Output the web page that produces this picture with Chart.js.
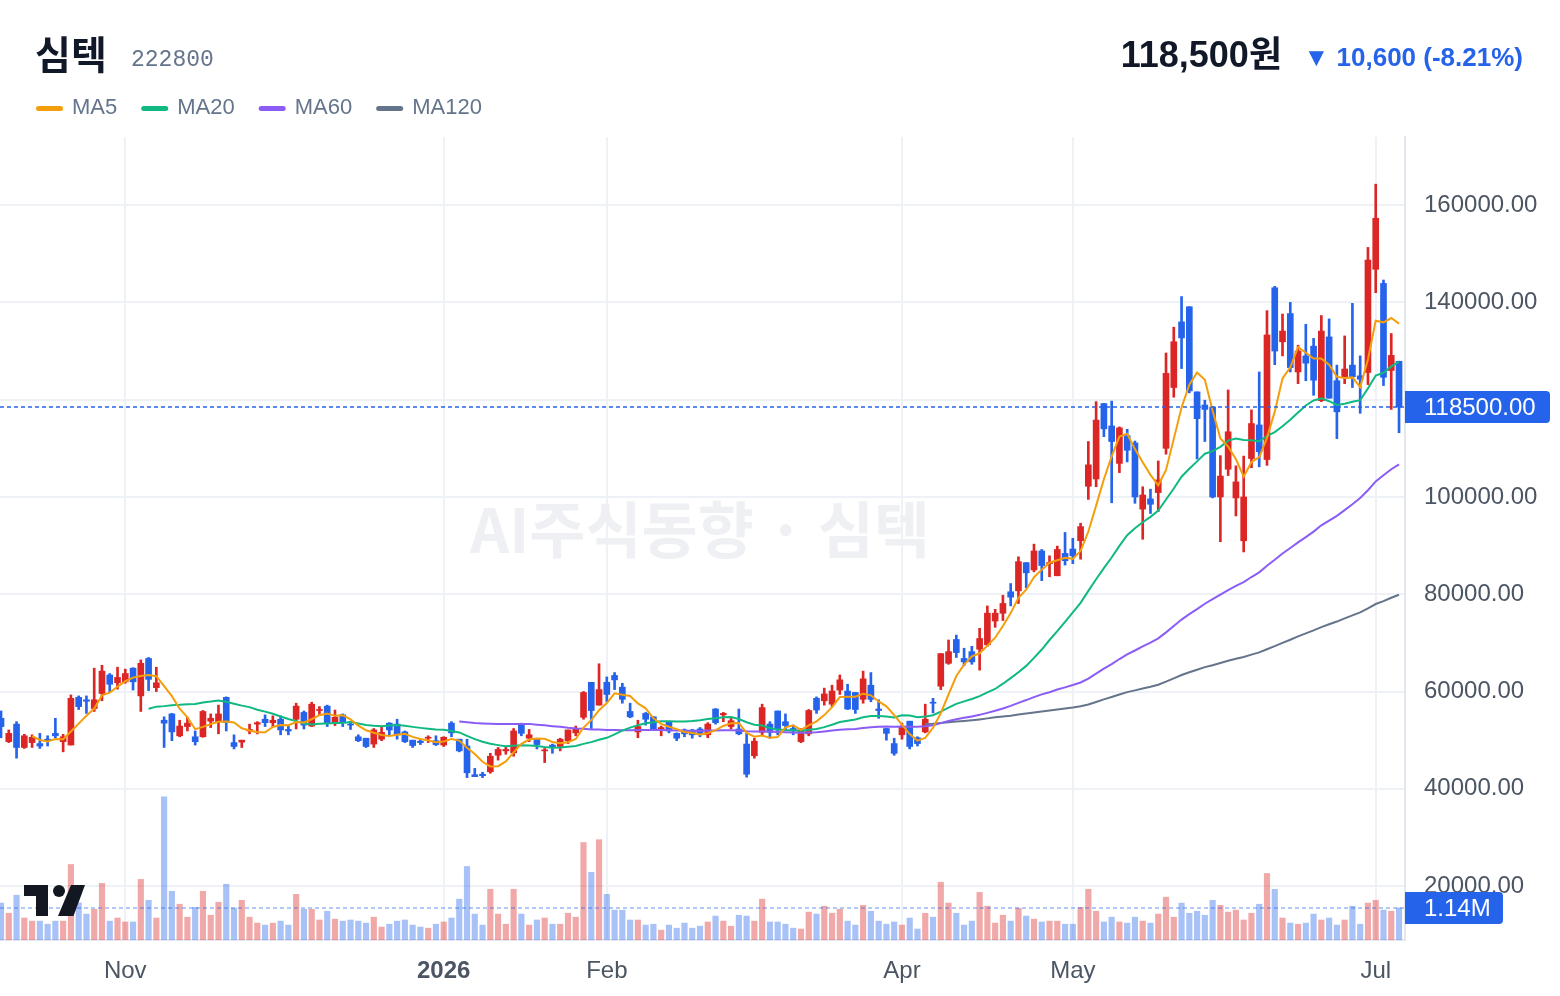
<!DOCTYPE html>
<html>
<head>
<meta charset="utf-8">
<title>심텍 222800</title>
<script src="https://cdn.jsdelivr.net/npm/chart.js@4.4.1/dist/chart.umd.min.js"></script>
<style>
  html, body { margin: 0; padding: 0; background: #ffffff; }
  canvas { display: block; }
</style>
</head>
<body>
<canvas id="stock_chart" width="1560" height="996"></canvas>
<script>
// 종목 정보
const stockName = '심텍';
const stockCode = '222800';
const lastPriceText = '118,500원';
const changeText = '▼ 10,600 (-8.21%)';
const lastVolumeText = '1.14M';

// x축 월 표시 (캔들 인덱스 / 레이블)
const monthTickIdx = [16, 57, 78, 116, 138, 177];
const monthTickLabel = ['Nov', '2026', 'Feb', 'Apr', 'May', 'Jul'];
const priceTicks = [20000, 40000, 60000, 80000, 100000, 120000, 140000, 160000];

// 일봉 시가/고가/저가/종가
const openArr = [
  54500, 49700, 53300, 48500, 49500, 49300, 50200, 51400, 49700, 49000,
  58800, 58300, 56500, 59600, 63400, 61800, 62000, 64800, 59100, 66800,
  60800, 54100, 55400, 50900, 52800, 50700, 50700, 53900, 53800, 58800,
  49500, 49600, 51900, 53300, 54300, 53600, 54300, 52200, 54300, 55700,
  52900, 56100, 57000, 53500, 55200, 53300, 50700, 50400, 49200, 50200,
  53500, 53300, 51700, 50000, 49800, 50400, 49900, 49000, 53500, 50200,
  48800, 42900, 43000, 43500, 46900, 47800, 47400, 53300, 50400, 50200,
  47800, 49000, 48700, 49900, 51500, 54700, 61900, 57200, 61900, 63300,
  60900, 55900, 51700, 55500, 54800, 52100, 53800, 51400, 52100, 52100,
  52300, 51100, 56400, 55200, 52800, 52300, 49200, 46800, 51600, 53300,
  56000, 53800, 52400, 49700, 51300, 58600, 58100, 57400, 60300, 60100,
  59800, 58400, 61300, 56400, 52400, 49300, 51100, 53900, 50500, 51700,
  57800, 61100, 65800, 70700, 66800, 68200, 68700, 69600, 74500, 76100,
  80500, 80700, 86500, 85000, 88900, 86300, 83800, 88400, 89300, 91000,
  102200, 103700, 119200, 114600, 106900, 112600, 111100, 97500, 99600, 100900,
  110000, 122500, 136000, 139100, 121600, 118900, 118500, 100000, 105700, 99800,
  91000, 107900, 114800, 107700, 143000, 131900, 137700, 125700, 129000, 131000,
  119800, 132900, 123900, 124700, 127100, 124900, 125600, 146800, 143900, 126000,
  127900
];
const highArr = [
  56000, 52100, 53800, 51200, 51100, 51400, 50900, 54500, 51200, 59300,
  59100, 59100, 64800, 65400, 63700, 65000, 64600, 64900, 66500, 67000,
  65000, 54800, 55500, 54100, 54700, 51900, 56100, 55400, 57200, 58900,
  51100, 50000, 53300, 53800, 55200, 55000, 55000, 53000, 57600, 56000,
  57800, 56900, 57200, 56200, 55400, 53800, 51100, 50400, 52400, 52900,
  53600, 54300, 51900, 50000, 50200, 50900, 50900, 50700, 53800, 50200,
  50200, 44200, 43400, 47300, 48500, 48700, 52400, 53500, 52200, 50200,
  48300, 49200, 50400, 52100, 52900, 60000, 61900, 65700, 63000, 63900,
  61700, 57600, 54100, 55700, 54800, 52900, 53900, 51500, 52300, 52200,
  52600, 53600, 56500, 55700, 54500, 56400, 51400, 50400, 57400, 53800,
  56000, 55400, 53100, 52400, 56300, 58900, 60700, 61300, 63400, 61500,
  59800, 64200, 63900, 58300, 52400, 50400, 53500, 53900, 50700, 57400,
  58600, 67800, 70600, 71600, 68900, 69300, 73000, 77600, 76900, 79800,
  82200, 87700, 86500, 90300, 89200, 87900, 89900, 92700, 91500, 94600,
  111400, 119600, 119200, 119700, 114400, 113900, 111500, 102100, 101600, 107400,
  129600, 134900, 141200, 139100, 121600, 119900, 118500, 108500, 122000, 106400,
  108400, 117900, 125700, 138300, 143300, 137600, 140000, 131200, 135500, 132600,
  137300, 136600, 127100, 133100, 139800, 129000, 151300, 164300, 144600, 133600,
  127900
];
const lowArr = [
  50500, 49500, 46300, 48300, 48500, 48300, 48800, 50400, 47600, 49000,
  56300, 55500, 55900, 58100, 59800, 60500, 61700, 60300, 55900, 60200,
  60000, 48500, 49900, 50700, 51900, 49000, 50600, 52600, 51300, 51900,
  48200, 48500, 51300, 51300, 52800, 52800, 51100, 51100, 52300, 52300,
  52800, 55200, 52800, 53000, 52800, 52200, 49700, 48500, 48500, 49900,
  50900, 50200, 49500, 48500, 49100, 49500, 48900, 48700, 50700, 47600,
  42300, 42500, 42300, 43200, 45900, 47100, 46700, 50900, 49700, 48200,
  45400, 47300, 47800, 49300, 50900, 54300, 52400, 57200, 57900, 60400,
  57600, 54600, 50500, 53100, 52100, 50900, 51500, 49900, 50700, 50400,
  50700, 50500, 53300, 53800, 52300, 51100, 42400, 46300, 51100, 50400,
  51100, 52100, 51100, 49500, 50900, 55500, 57200, 56900, 59400, 56300,
  55500, 57600, 57900, 54500, 50000, 46900, 50200, 48200, 48800, 51500,
  55600, 60400, 65600, 67000, 65300, 65600, 64400, 69300, 73200, 74600,
  77600, 78100, 81300, 84600, 82800, 83600, 83800, 86000, 86300, 87200,
  99500, 102100, 112400, 98800, 105000, 107200, 98700, 91300, 96600, 97000,
  108800, 120500, 126400, 121400, 107800, 111400, 99800, 90800, 104400, 96100,
  88700, 106000, 106200, 106500, 127200, 129000, 125700, 123300, 123900, 120900,
  119600, 120300, 112000, 123300, 122500, 117200, 123100, 142000, 122900, 118000,
  113200
];
const closeArr = [
  52800, 51400, 48500, 50900, 50600, 48800, 49900, 50900, 50700, 58600,
  56900, 58000, 58300, 64200, 61500, 62900, 63700, 62000, 65800, 62500,
  61800, 53500, 51700, 52900, 53500, 49700, 55900, 54500, 55400, 53600,
  48700, 50000, 52200, 53600, 53600, 54100, 52100, 51900, 57000, 53100,
  57400, 56300, 53500, 54700, 53800, 53100, 49900, 48700, 52100, 51600,
  52100, 51100, 49700, 48900, 49500, 50600, 49100, 50600, 51500, 47800,
  43300, 42500, 42700, 46700, 48100, 48100, 51900, 51400, 51100, 49100,
  48000, 48500, 50200, 52100, 52400, 59800, 56100, 60400, 59400, 62400,
  58400, 54800, 52800, 54300, 52200, 52600, 51900, 50400, 51300, 51100,
  51100, 53300, 53600, 55500, 54000, 51300, 43000, 49800, 56700, 51600,
  52100, 53000, 51900, 52100, 56100, 56200, 59500, 60100, 62400, 56400,
  56300, 62600, 58400, 56100, 51400, 47300, 52800, 48700, 49300, 54300,
  57600, 67800, 68200, 68000, 66100, 66100, 70900, 76100, 76100, 78100,
  79400, 86700, 84400, 88900, 85900, 86500, 89200, 86900, 87900, 93900,
  106600, 115800, 114000, 111400, 114200, 109600, 100000, 100400, 98500, 103500,
  125400, 131900, 132700, 121800, 116100, 118000, 100000, 104300, 113400, 103100,
  100000, 115100, 109300, 133300, 130000, 134100, 126600, 130000, 127500, 124000,
  134100, 120300, 117500, 126300, 124700, 124200, 148700, 157300, 124600, 129100,
  118500
];
// 거래량 (백만 주)
const volumeMil = [
  1.31, 0.95, 1.59, 0.78, 0.67, 0.67, 0.56, 0.67, 0.67, 2.68,
  1.32, 0.92, 1.09, 2.01, 0.67, 0.78, 0.64, 0.64, 2.15, 1.41,
  0.78, 5.08, 1.73, 1.27, 0.81, 1.16, 1.73, 0.88, 1.34, 1.98,
  1.13, 1.41, 0.81, 0.60, 0.53, 0.60, 0.67, 0.53, 1.62, 1.09,
  1.09, 0.71, 1.02, 0.74, 0.67, 0.71, 0.67, 0.60, 0.81, 0.46,
  0.56, 0.67, 0.71, 0.53, 0.46, 0.42, 0.56, 0.64, 0.78, 1.45,
  2.61, 0.92, 0.53, 1.80, 0.92, 0.56, 1.80, 0.92, 0.53, 0.71,
  0.78, 0.56, 0.56, 0.95, 0.81, 3.46, 2.40, 3.56, 1.62, 1.06,
  1.06, 0.71, 0.71, 0.53, 0.56, 0.35, 0.53, 0.42, 0.60, 0.42,
  0.49, 0.64, 0.85, 0.67, 0.49, 0.88, 0.85, 0.67, 1.45, 0.64,
  0.64, 0.56, 0.42, 0.39, 0.99, 0.92, 1.20, 0.95, 1.09, 0.67,
  0.53, 1.23, 1.02, 0.67, 0.56, 0.64, 0.53, 0.78, 0.39, 0.95,
  0.81, 2.05, 1.31, 0.95, 0.53, 0.67, 1.69, 1.20, 0.60, 0.88,
  0.67, 1.13, 0.85, 0.74, 0.64, 0.67, 0.67, 0.56, 0.56, 1.16,
  1.80, 1.02, 0.64, 0.81, 0.64, 0.60, 0.81, 0.67, 0.60, 0.92,
  1.52, 0.81, 1.31, 0.95, 1.02, 0.88, 1.41, 1.23, 0.99, 1.06,
  0.71, 0.95, 1.27, 2.36, 1.80, 0.78, 0.60, 0.56, 0.60, 0.92,
  0.71, 0.78, 0.53, 0.71, 1.20, 0.56, 1.31, 1.41, 1.06, 1.02,
  1.14
];

// 이동평균선 설정
const maPeriods = [5, 20, 60, 120];
const maColors = ['#F59E0B', '#10B981', '#8B5CF6', '#64748B'];

const upColor = '#DC2626';
const downColor = '#2563EB';
const fontSans = '"Liberation Sans", Arial, "Noto Sans CJK KR", sans-serif';

function movingAvg(src, n) {
  return src.map(function (v, i) {
    if (i < n - 1) return null;
    let s = 0;
    for (let k = i - n + 1; k <= i; k++) s += src[k];
    return s / n;
  });
}

let lastIdx = closeArr.length - 1;
let isUp = closeArr.map((c, i) => c >= openArr[i]);
let wickPts = closeArr.map((c, i) => ({ x: i, y: [lowArr[i], highArr[i]] }));
let bodyPts = closeArr.map((c, i) => ({ x: i, y: [openArr[i], c] }));
let volPts = volumeMil.map((v, i) => ({ x: i, y: v * 1e6 }));
let candleColors = isUp.map(u => u ? upColor : downColor);
let volColors = isUp.map(u => u ? 'rgba(220,38,38,0.4)' : 'rgba(37,99,235,0.4)');

let maSets = maPeriods.map(function (n, k) {
  let ma = movingAvg(closeArr, n);
  return {
    type: 'line',
    label: 'MA' + n,
    data: ma.map((v, i) => ({ x: i, y: v })),
    borderColor: maColors[k],
    borderWidth: 2,
    pointRadius: 0,
    tension: 0,
    spanGaps: false,
    yAxisID: 'y',
    order: 0
  };
});

// 워터마크, 현재가 라인, 라벨, 헤더 그리기
const overlayPlugin = {
  id: 'overlay',
  beforeDatasetsDraw(chart) {
    let c = chart.ctx;
    c.save();
    c.font = 'bold 61px "Noto Sans CJK KR", ' + fontSans;
    c.fillStyle = '#EEF0F3';
    c.textAlign = 'center';
    c.textBaseline = 'middle';
    c.fillText('AI주식동향 · 심텍', 700, 530);
    c.restore();
  },
  afterDatasetsDraw(chart) {
    let c = chart.ctx, a = chart.chartArea;
    let py = chart.scales.y.getPixelForValue(closeArr[lastIdx]);
    let vy = chart.scales.yv.getPixelForValue(volumeMil[lastIdx] * 1e6);
    c.save();
    // 거래량 점선
    c.setLineDash([4, 3]);
    c.lineWidth = 2;
    c.strokeStyle = 'rgba(37,99,235,0.35)';
    c.beginPath(); c.moveTo(a.left, vy); c.lineTo(a.right, vy); c.stroke();
    // 현재가 점선
    c.lineWidth = 1.5;
    c.strokeStyle = '#2563EB';
    c.beginPath(); c.moveTo(a.left, py); c.lineTo(a.right, py); c.stroke();
    c.setLineDash([]);

    // 트레이딩뷰 로고
    c.fillStyle = '#131722';
    c.fillRect(24, 885, 24, 11);
    c.fillRect(36, 885, 12, 31);
    c.beginPath(); c.arc(59, 891, 6, 0, Math.PI * 2); c.fill();
    c.beginPath();
    c.moveTo(71, 885); c.lineTo(85, 885); c.lineTo(73.5, 916); c.lineTo(58, 916);
    c.closePath(); c.fill();

    // 오른쪽 라벨 박스
    c.fillStyle = '#2563EB';
    c.beginPath(); c.roundRect(a.right, py - 16, 145, 32, [0, 4, 4, 0]); c.fill();
    c.beginPath(); c.roundRect(a.right, vy - 16, 98, 32, [0, 4, 4, 0]); c.fill();
    c.fillStyle = '#ffffff';
    c.font = '24px ' + fontSans;
    c.textAlign = 'left';
    c.textBaseline = 'middle';
    c.fillText(closeArr[lastIdx].toFixed(2), a.right + 19, py + 1);
    c.fillText(lastVolumeText, a.right + 19, vy + 1);
    c.restore();
  },
  afterDraw(chart) {
    let c = chart.ctx;
    c.save();
    c.textBaseline = 'alphabetic';
    c.textAlign = 'left';
    c.fillStyle = '#111827';
    c.font = 'bold 39px "Noto Sans CJK KR", ' + fontSans;
    c.fillText(stockName, 35, 69);
    c.fillStyle = '#64748B';
    c.font = '23px "Liberation Mono", "DejaVu Sans Mono", monospace';
    c.fillText(stockCode, 131, 66);

    c.textAlign = 'right';
    c.fillStyle = '#111827';
    c.font = 'bold 36px ' + fontSans;
    c.fillText(lastPriceText, 1282, 67);
    c.fillStyle = '#2563EB';
    c.font = 'bold 26px ' + fontSans;
    c.fillText(changeText, 1523, 66);

    // 범례
    let lx = 36;
    c.textAlign = 'left';
    c.font = '22px ' + fontSans;
    for (let k = 0; k < maPeriods.length; k++) {
      c.fillStyle = maColors[k];
      c.beginPath(); c.roundRect(lx, 106, 27, 5, 2.5); c.fill();
      c.fillStyle = '#64748B';
      let t = 'MA' + maPeriods[k];
      c.fillText(t, lx + 36, 114);
      lx += 36 + c.measureText(t).width + 24;
    }
    c.restore();
  }
};

let stockCtx = document.getElementById('stock_chart');
let stockChart = new Chart(stockCtx, {
  type: 'bar',
  data: {
    datasets: maSets.concat([
      {
        label: 'body',
        data: bodyPts,
        backgroundColor: candleColors,
        barThickness: 6,
        minBarLength: 1,
        grouped: false,
        yAxisID: 'y',
        order: 1
      },
      {
        label: 'wick',
        data: wickPts,
        backgroundColor: candleColors,
        barThickness: 2,
        grouped: false,
        yAxisID: 'y',
        order: 2
      },
      {
        label: 'volume',
        data: volPts,
        backgroundColor: volColors,
        barThickness: 5.5,
        grouped: false,
        yAxisID: 'yv',
        order: 3
      }
    ])
  },
  options: {
    responsive: false,
    animation: false,
    devicePixelRatio: 1,
    layout: { padding: { top: 137, left: 0, right: 0, bottom: 0 } },
    plugins: { legend: { display: false }, tooltip: { enabled: false } },
    scales: {
      x: {
        type: 'linear',
        min: -0.13,
        max: 180.77,
        offset: false,
        grid: { color: '#EEF1F5', lineWidth: 2, drawTicks: false, offset: false },
        border: { display: true, color: '#E3E7EE', width: 2 },
        afterBuildTicks: function (s) { s.ticks = monthTickIdx.map(v => ({ value: v })); },
        afterFit: function (s) { s.height = 56; },
        ticks: {
          autoSkip: false,
          maxRotation: 0,
          padding: 17,
          color: '#4B5563',
          font: function (ctx) {
            let bold = ctx.tick && ctx.tick.value === 57;
            return { family: fontSans, size: 24, weight: bold ? 'bold' : 'normal' };
          },
          callback: function (v) {
            let k = monthTickIdx.indexOf(v);
            return k >= 0 ? monthTickLabel[k] : '';
          }
        }
      },
      y: {
        position: 'right',
        min: 8920,
        max: 174000,
        grid: { color: '#EEF1F5', lineWidth: 2, drawTicks: false },
        border: { display: true, color: '#E3E7EE', width: 2 },
        afterBuildTicks: function (s) { s.ticks = priceTicks.map(v => ({ value: v })); },
        afterFit: function (s) { s.width = 155; },
        ticks: {
          padding: 19,
          color: '#4B5563',
          font: { family: fontSans, size: 24 },
          // 현재가 라벨과 겹치는 눈금은 숨김
          callback: v => Math.abs(v - closeArr[lastIdx]) < 4000 ? '' : Number(v).toFixed(2)
        }
      },
      yv: {
        display: false,
        min: 0,
        max: 28.5e6
      }
    }
  },
  plugins: [overlayPlugin]
});
</script>
</body>
</html>
